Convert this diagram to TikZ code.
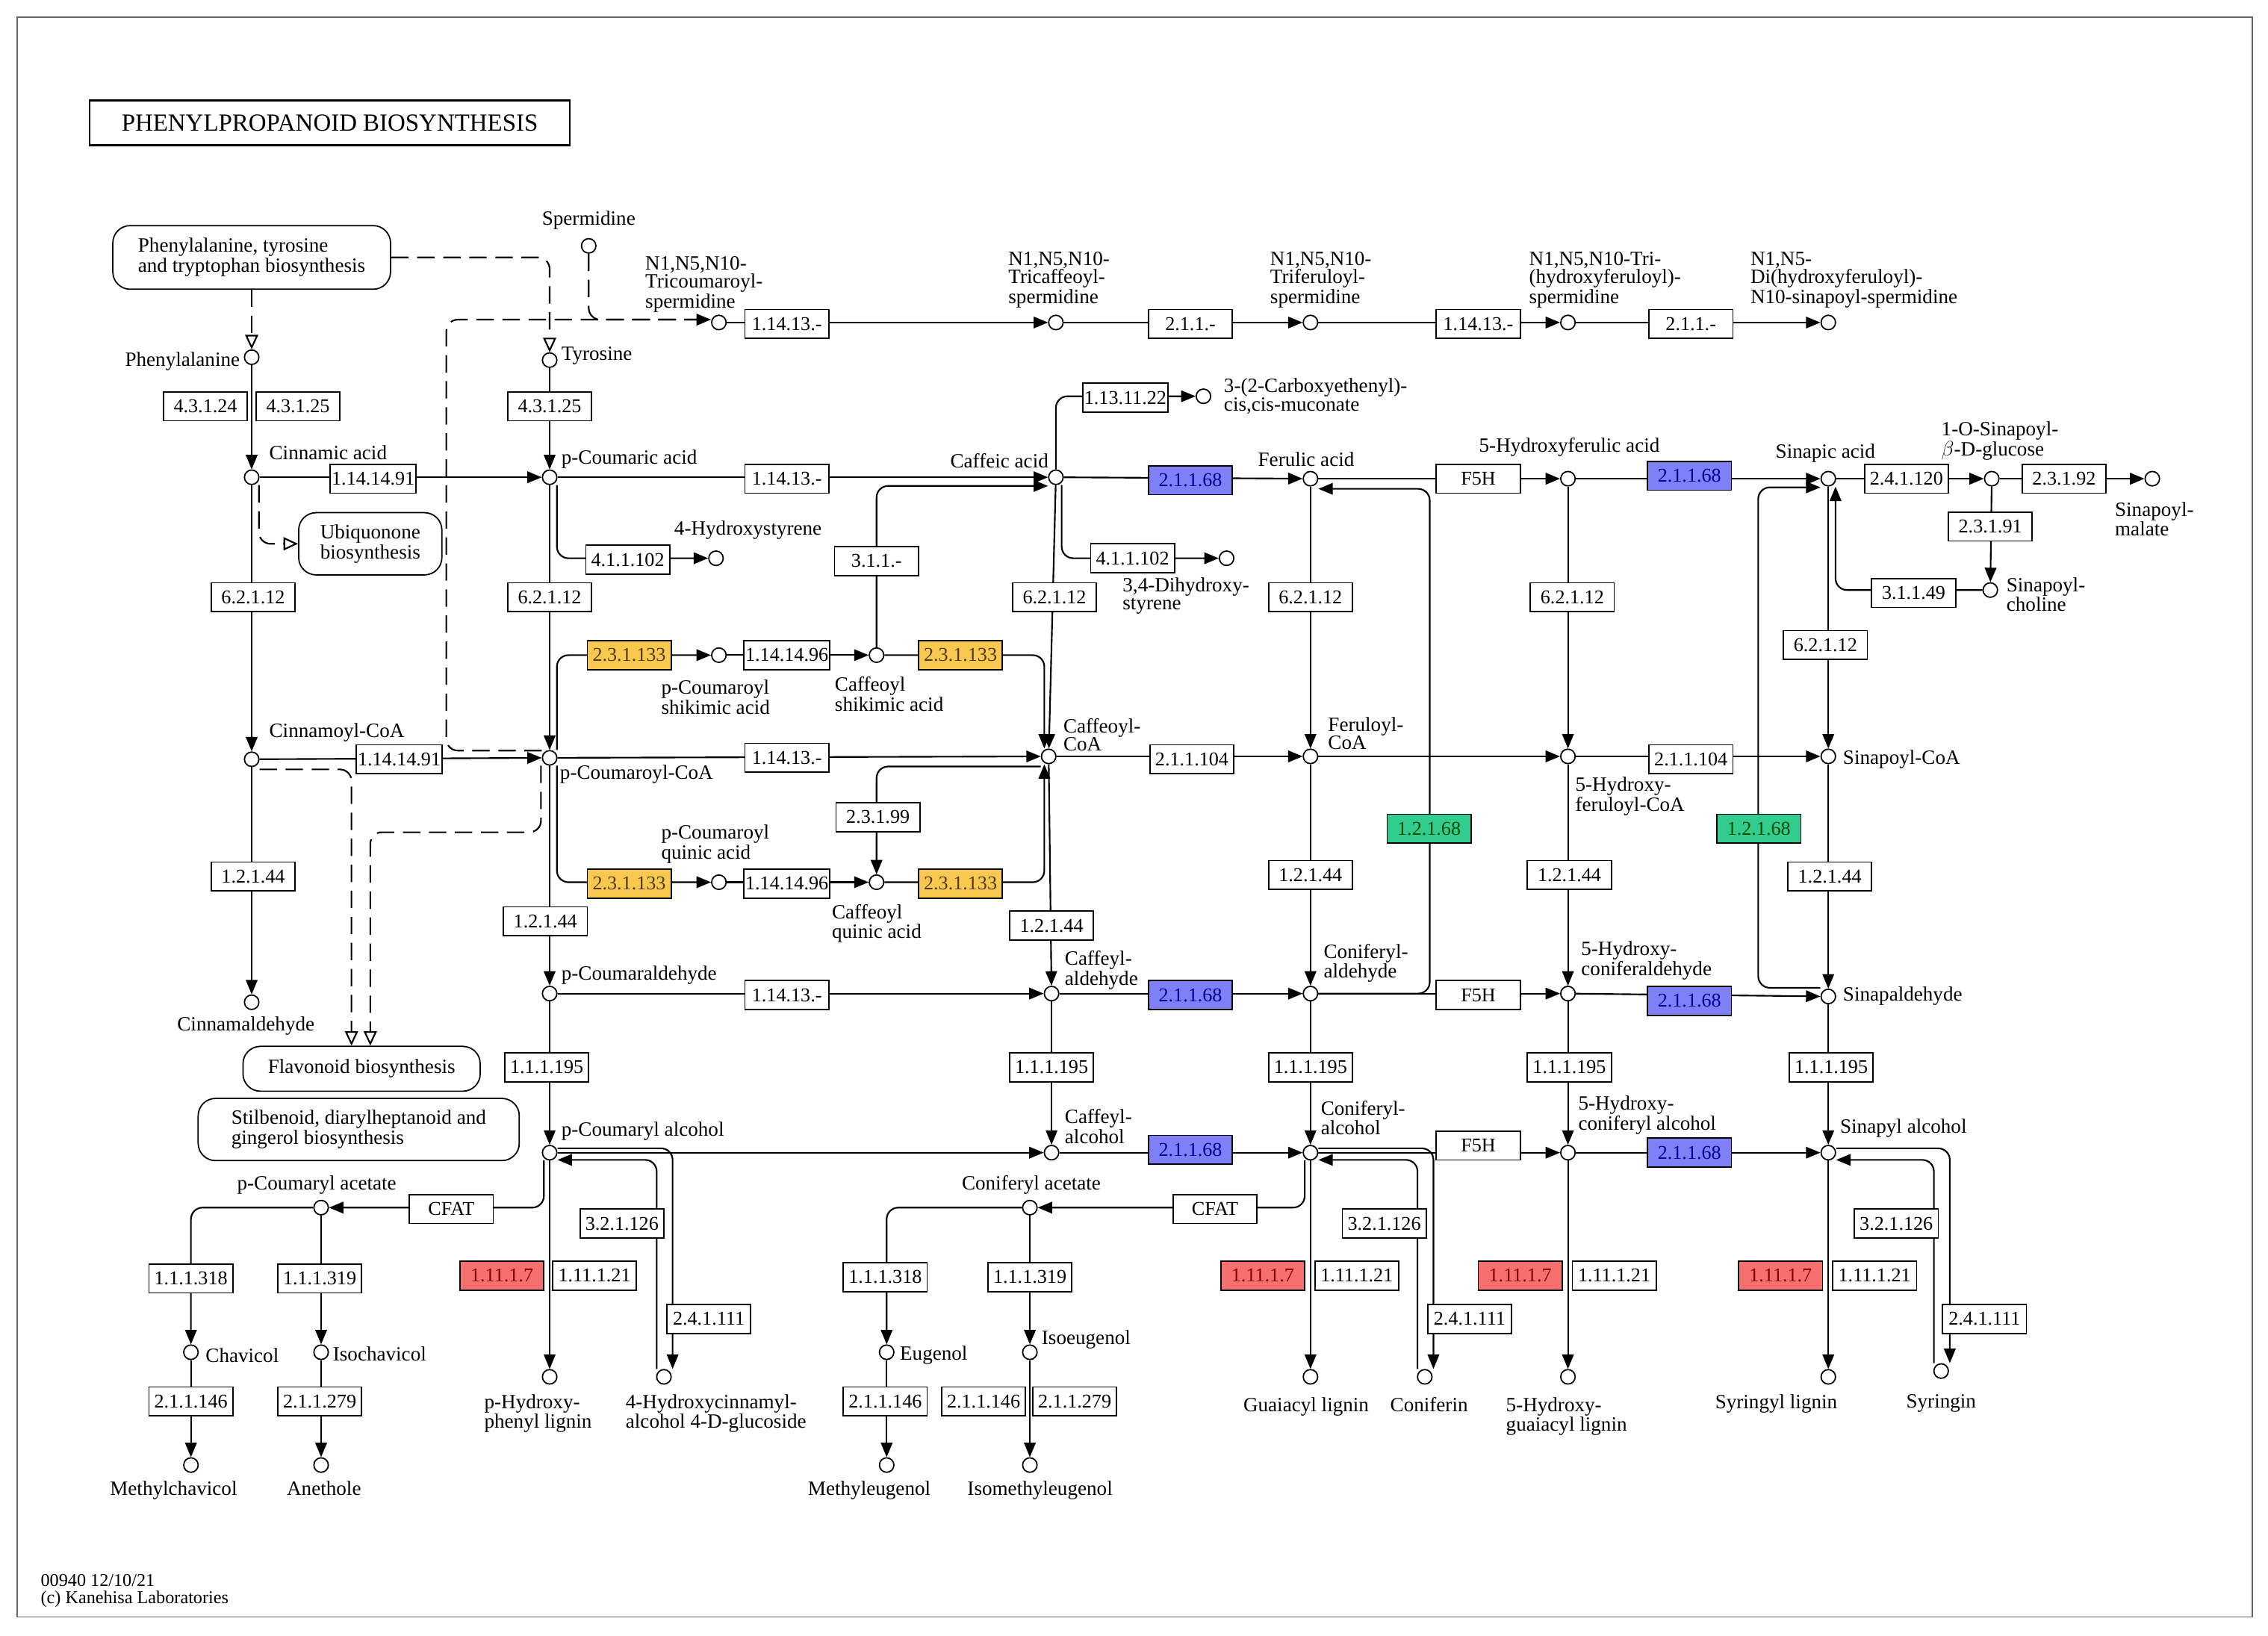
\documentclass[tikz,border=0pt]{standalone}
\usepackage{fontspec}
\setmainfont{Liberation Serif}
\usetikzlibrary{arrows.meta}
\newcommand\fs{\fontsize{14}{12.5}\selectfont}
\newcommand\fe{\fontsize{13.5}{13}\selectfont}
\definecolor{kyel}{HTML}{F9C84E}
\definecolor{kblu}{HTML}{7F7FF8}
\definecolor{kred}{HTML}{F86F6F}
\definecolor{kgrn}{HTML}{33CC8F}
\begin{document}
\begin{tikzpicture}[x=1pt,y=-1pt,
 cpd/.style={circle,draw,fill=white,inner sep=0pt,minimum size=10pt,line width=0.9pt},
 enz/.style={draw,fill=white,minimum width=58pt,minimum height=20pt,inner sep=1pt,font=\fe,line width=0.9pt},
 ey/.style={enz,fill=kyel,text=black!70!kyel},
 eb/.style={enz,fill=kblu,text=blue!60!black},
 er/.style={enz,fill=kred,text=red!50!black},
 eg/.style={enz,fill=kgrn,text=green!30!black},
 lbl/.style={font=\fs,inner sep=0pt,align=left},
 ar/.style={line width=1.1pt,-{Triangle[length=10pt,width=8pt]}},
 dar/.style={line width=1.1pt,dash pattern=on 12pt off 6pt,-{Triangle[open,length=10pt,width=9pt]}},
 dsh/.style={line width=1.1pt,dash pattern=on 12pt off 6pt},
 mp/.style={draw,fill=white,rounded corners=12pt,align=left,font=\fs,line width=0.9pt,inner sep=5pt},
 rc/.style={rounded corners=8pt}]
\useasboundingbox (0,0) rectangle (1568,1131);
\fill[white] (0,0) rectangle (1568,1131);
\draw[black!60,line width=0.8pt] (12,12) rectangle (1557,1118);
\node[draw,line width=1.4pt,font=\fontsize{17}{17}\selectfont,minimum width=332pt,minimum height=31pt] (title) at (228,85) {PHENYLPROPANOID BIOSYNTHESIS};
% maps
\node[mp,minimum width=192pt,minimum height=44pt] (map1) at (174,178) {Phenylalanine, tyrosine\\and tryptophan biosynthesis};
\node[mp,minimum width=99pt,minimum height=43pt,align=center] (map2) at (256,376) {Ubiquonone\\biosynthesis};
\node[mp,minimum width=164pt,minimum height=31pt] (map3) at (250,739) {Flavonoid biosynthesis};
\node[mp,minimum width=222pt,minimum height=43pt] (map4) at (248,781) {Stilbenoid, diarylheptanoid and\\gingerol biosynthesis};
% compounds
\foreach \n/\p in {phe/{174,247},cin/{174,330},cinCoA/{174,525},cinald/{174,693},tyr/{380,249},spd/{407,170},
 pca/{380,330},pcoa/{380,524},pcald/{380,687},pcalc/{380,797},hsty/{495,386},pshik/{497,453},cshik/{606,453},
 pquin/{497,610},cquin/{606,610},caf/{730,330},cafcoa/{725,523},cafald/{727,687},cafalc/{727,797},dhs/{848,386},
 muc/{832,274},fer/{906,331},fercoa/{906,523},conald/{906,687},conalc/{906,797},conac/{712,835},gl/{906,952},
 conif/{985,952},hfer/{1084,331},hfcoa/{1084,523},hcald/{1084,687},hcalc/{1084,797},hgl/{1084,952},
 sin/{1264,331},sincoa/{1264,523},sinald/{1264,689},sinalc/{1264,797},sgl/{1264,952},syr/{1342,948},
 sglc/{1377,331},smal/{1488,331},schol/{1376,408},tcs/{497,223},tcaf/{730,223},tfer/{906,223},thf/{1084,223},
 dhs2/{1264,223},pcac/{222,835},chav/{132,935},ichav/{222,935},mchav/{132,1013},aneth/{222,1013},
 phl/{380,952},glu/{459,952},eug/{613,935},ieug/{712,935},meug/{613,1013},imeug/{712,1013}}
 {\node[cpd] (\n) at (\p) {};}
% labels
\node[lbl,anchor=east] (Lphe) at (166,250) {Phenylalanine};
\node[lbl,anchor=south west] (Lcin) at (186,318) {Cinnamic acid};
\node[lbl,anchor=south west] (LcinCoA) at (186,513) {Cinnamoyl-CoA};
\node[lbl,anchor=north] (Lcinald) at (170,703) {Cinnamaldehyde};
\node[lbl,anchor=west] (Ltyr) at (388,246) {Tyrosine};
\node[lbl,anchor=south] (Lspd) at (407,159) {Spermidine};
\node[lbl,anchor=south west] (Lpca) at (388,324) {p-Coumaric acid};
\node[lbl,anchor=north west] (Lpcoa) at (387,529) {p-Coumaroyl-CoA};
\node[lbl,anchor=south west] (Lpcald) at (388,681) {p-Coumaraldehyde};
\node[lbl,anchor=south west] (Lpcalc) at (388,789) {p-Coumaryl alcohol};
\node[lbl,anchor=south west] (Lhsty) at (466,373) {4-Hydroxystyrene};
\node[lbl,anchor=north west] (Lpshik) at (457,470) {p-Coumaroyl\\shikimic acid};
\node[lbl,anchor=north west] (Lcshik) at (577,468) {Caffeoyl\\shikimic acid};
\node[lbl,anchor=south west] (Lpquin) at (457,597) {p-Coumaroyl\\quinic acid};
\node[lbl,anchor=north west] (Lcquin) at (575,625) {Caffeoyl\\quinic acid};
\node[lbl,anchor=south east] (Lcaf) at (725,324) {Caffeic acid};
\node[lbl,anchor=west] (Lcafcoa) at (735,508) {Caffeoyl-\\CoA};
\node[lbl,anchor=west] (Lcafald) at (736,671) {Caffeyl-\\aldehyde};
\node[lbl,anchor=west] (Lcafalc) at (736,779) {Caffeyl-\\alcohol};
\node[lbl,anchor=north west] (Ldhs) at (776,399) {3,4-Dihydroxy-\\styrene};
\node[lbl,anchor=west] (Lmuc) at (846,274) {3-(2-Carboxyethenyl)-\\cis,cis-muconate};
\node[lbl,anchor=south] (Lfer) at (903,323) {Ferulic acid};
\node[lbl,anchor=west] (Lfercoa) at (918,507) {Feruloyl-\\CoA};
\node[lbl,anchor=west] (Lconald) at (915,666) {Coniferyl-\\aldehyde};
\node[lbl,anchor=west] (Lconalc) at (913,773) {Coniferyl-\\alcohol};
\node[lbl,anchor=south] (Lconac) at (713,826) {Coniferyl acetate};
\node[lbl,anchor=north] (Lgl) at (903,966) {Guaiacyl lignin};
\node[lbl,anchor=north] (Lconif) at (988,966) {Coniferin};
\node[lbl,anchor=south] (Lhfer) at (1085,316) {5-Hydroxyferulic acid};
\node[lbl,anchor=north west] (Lhfcoa) at (1089,537) {5-Hydroxy-\\feruloyl-CoA};
\node[lbl,anchor=west] (Lhcald) at (1093,664) {5-Hydroxy-\\coniferaldehyde};
\node[lbl,anchor=west] (Lhcalc) at (1091,771) {5-Hydroxy-\\coniferyl alcohol};
\node[lbl,anchor=north] (Lhgl) at (1083,966) {5-Hydroxy-\\guaiacyl lignin};
\node[lbl,anchor=south] (Lsin) at (1262,320) {Sinapic acid};
\node[lbl,anchor=west] (Lsincoa) at (1274,525) {Sinapoyl-CoA};
\node[lbl,anchor=west] (Lsinald) at (1274,689) {Sinapaldehyde};
\node[lbl,anchor=west] (Lsinalc) at (1272,780) {Sinapyl alcohol};
\node[lbl,anchor=north] (Lsgl) at (1228,964) {Syringyl lignin};
\node[lbl,anchor=north] (Lsyr) at (1342,964) {Syringin};
\node[lbl,anchor=west] (Lsglc) at (1342,305) {1-O-Sinapoyl-\\$\beta$-D-glucose};
\node[lbl,anchor=west] (Lsmal) at (1462,359) {Sinapoyl-\\malate};
\node[lbl,anchor=west] (Lschol) at (1387,411) {Sinapoyl-\\choline};
\node[lbl,anchor=south west] (Ltcs) at (446,216) {N1,N5,N10-\\Tricoumaroyl-\\spermidine};
\node[lbl,anchor=south west] (Ltcaf) at (697,213) {N1,N5,N10-\\Tricaffeoyl-\\spermidine};
\node[lbl,anchor=south west] (Ltfer) at (878,213) {N1,N5,N10-\\Triferuloyl-\\spermidine};
\node[lbl,anchor=south west] (Lthf) at (1057,213) {N1,N5,N10-Tri-\\(hydroxyferuloyl)-\\spermidine};
\node[lbl,anchor=south west] (Ldhs2) at (1210,213) {N1,N5-\\Di(hydroxyferuloyl)-\\N10-sinapoyl-spermidine};
\node[lbl,anchor=south] (Lpcac) at (219,826) {p-Coumaryl acetate};
\node[lbl,anchor=west] (Lchav) at (142,937) {Chavicol};
\node[lbl,anchor=west] (Lichav) at (230,936) {Isochavicol};
\node[lbl,anchor=north] (Lmchav) at (120,1024) {Methylchavicol};
\node[lbl,anchor=north] (Laneth) at (224,1024) {Anethole};
\node[lbl,anchor=north] (Lphl) at (372,964) {p-Hydroxy-\\phenyl lignin};
\node[lbl,anchor=north] (Lglu) at (495,964) {4-Hydroxycinnamyl-\\alcohol 4-D-glucoside};
\node[lbl,anchor=west] (Leug) at (622,937) {Eugenol};
\node[lbl,anchor=west] (Lieug) at (720,926) {Isoeugenol};
\node[lbl,anchor=north] (Lmeug) at (601,1024) {Methyleugenol};
\node[lbl,anchor=north] (Limeug) at (719,1024) {Isomethyleugenol};
\node[lbl,anchor=west,font=\fontsize{12.5}{12}\selectfont] (foot) at (28,1100) {00940 12/10/21\\(c) Kanehisa Laboratories};
% dashed links
\draw[dar] (map1) -- (phe);
\draw[dar,rc] (map1.east) -| (tyr);
\draw[dar,rc] ([xshift=5pt]cin.south) |- (map2.west);
\draw[dar,rc] ([yshift=-7pt]cinCoA.east) -| ([xshift=-7pt]map3.north);
\draw[dar,rc] ([xshift=-6pt]pcoa.south) -- ++(0,46) -| ([xshift=6pt]map3.north);
\draw[dsh,rc,-{Triangle[length=10pt,width=8pt]}] (spd) |- ([yshift=2pt]tcs.west);
\draw[dsh,rc] ([yshift=5pt]pcoa.west) -- ++(-66,0) |- ([yshift=2pt]tcs.west);
% reactions
\draw[ar] (phe) -- (cin);
\draw[ar] (cin) -- (pca);
\draw[ar] (cin) -- (cinCoA);
\draw[ar] (cinCoA) -- (cinald);
\draw[ar] (cinCoA) -- (pcoa);
\draw[ar] (tyr) -- (pca);
\draw[ar] (pca) -- (pcoa);
\draw[ar] (pca) -- (caf);
\draw[ar,rc] ([xshift=5pt]pca.south) |- (hsty);
\draw[ar,rc] ([xshift=5pt]pcoa.north) |- (pshik);
\draw[ar] (pshik) -- (cshik);
\draw[ar,rc] (cshik) -| ([xshift=-3pt]cafcoa.north);
\draw[ar,rc] (cshik) |- ([yshift=-6pt]caf.west);
\draw[ar,rc] ([xshift=5pt]pcoa.south) |- (pquin);
\draw[ar] (pquin) -- (cquin);
\draw[ar,rc] (cquin) -| ([xshift=-3pt]cafcoa.south);
\draw[ar,rc] ([yshift=-7pt]cafcoa.west) -| (cquin);
\draw[ar] (caf) -- (fer);
\draw[ar] (caf) -- (cafcoa);
\draw[ar,rc] ([xshift=4pt]caf.south) |- (dhs);
\draw[ar,rc] (caf.north) |- (muc);
\draw[ar] (cafcoa) -- (fercoa);
\draw[ar] (cafcoa) -- (cafald);
\draw[ar] (pcoa) -- (pcald);
\draw[ar] (pcoa) -- (cafcoa);
\draw[ar] (pcald) -- (cafald);
\draw[ar] (pcald) -- (pcalc);
\draw[ar] (cafald) -- (conald);
\draw[ar] (cafald) -- (cafalc);
\draw[ar] (pcalc) -- (cafalc);
\draw[ar] (cafalc) -- (conalc);
\draw[ar] (fer) -- (fercoa);
\draw[ar] (fer) -- (hfer);
\draw[ar] (hfer) -- (sin);
\draw[ar] (fercoa) -- (hfcoa);
\draw[ar] (hfcoa) -- (sincoa);
\draw[ar] (fercoa) -- (conald);
\draw[ar,rc] (conald.east) -- ++(77,0) |- ([yshift=-7pt]fer.east);
\draw[ar] (conald) -- (hcald);
\draw[ar] (hcald) -- (sinald);
\draw[ar,rc] ([yshift=6pt]sinald.west) -- ++(-43,0) |- ([yshift=-6pt]sin.west);
\draw[ar] (conald) -- (conalc);
\draw[ar] (hcald) -- (hcalc);
\draw[ar] (sinald) -- (sinalc);
\draw[ar] (conalc) -- (hcalc);
\draw[ar] (hcalc) -- (sinalc);
\draw[ar] (hfer) -- (hfcoa);
\draw[ar] (hfcoa) -- (hcald);
\draw[ar] (sin) -- (sincoa);
\draw[ar] (sincoa) -- (sinald);
\draw[ar] (sin) -- (sglc);
\draw[ar] (sglc) -- (smal);
\draw[ar] (sglc) -- (schol);
\draw[ar,rc] (schol) -| ([xshift=5pt]sin.south);
\draw[ar] (pcalc) -- (phl);
\draw[ar,rc] ([yshift=3pt]pcalc.east) -| ([xshift=6pt]glu.north);
\draw[ar,rc] ([xshift=-5pt]glu.north) |- ([yshift=-5pt]pcalc.east);
\draw[ar] (conalc) -- (gl);
\draw[ar,rc] ([yshift=3pt]conalc.east) -| ([xshift=6pt]conif.north);
\draw[ar,rc] ([xshift=-5pt]conif.north) |- ([yshift=-5pt]conalc.east);
\draw[ar] (hcalc) -- (hgl);
\draw[ar] (sinalc) -- (sgl);
\draw[ar,rc] ([yshift=3pt]sinalc.east) -| ([xshift=6pt]syr.north);
\draw[ar,rc] ([xshift=-5pt]syr.north) |- ([yshift=-5pt]sinalc.east);
\draw[ar,rc] ([xshift=-4pt]pcalc.south) |- (pcac);
\draw[ar,rc] ([xshift=-4pt]conalc.south) |- (conac);
\draw[ar,rc] (pcac) -| (chav);
\draw[ar] (pcac) -- (ichav);
\draw[ar] (chav) -- (mchav);
\draw[ar] (ichav) -- (aneth);
\draw[ar,rc] (conac) -| (eug);
\draw[ar] (conac) -- (ieug);
\draw[ar] (eug) -- (meug);
\draw[ar] (ieug) -- (imeug);
\draw[ar] (tcs) -- (tcaf);
\draw[ar] (tcaf) -- (tfer);
\draw[ar] (tfer) -- (thf);
\draw[ar] (thf) -- (dhs2);
% enzymes
\node[enz] (e1) at (142,281) {4.3.1.24};
\node[enz] (e2) at (206,281) {4.3.1.25};
\node[enz] (e3) at (380,281) {4.3.1.25};
\node[enz] (e4) at (258,331) {1.14.14.91};
\node[enz] (e5) at (175,413) {6.2.1.12};
\node[enz] (e6) at (380,413) {6.2.1.12};
\node[enz] (e7) at (276,525) {1.14.14.91};
\node[enz] (e8) at (175,606) {1.2.1.44};
\node[enz] (e9) at (377,637) {1.2.1.44};
\node[enz] (e10) at (544,331) {1.14.13.-};
\node[enz] (e11) at (434,387) {4.1.1.102};
\node[enz] (e12) at (606,388) {3.1.1.-};
\node[ey] (e13) at (435,453) {2.3.1.133};
\node[enz] (e14) at (544,453) {1.14.14.96};
\node[ey] (e15) at (664,453) {2.3.1.133};
\node[enz] (e16) at (544,524) {1.14.13.-};
\node[enz] (e17) at (607,565) {2.3.1.99};
\node[ey] (e18) at (435,611) {2.3.1.133};
\node[enz] (e19) at (544,611) {1.14.14.96};
\node[ey] (e20) at (664,611) {2.3.1.133};
\node[enz] (e21) at (727,640) {1.2.1.44};
\node[enz] (e22) at (544,688) {1.14.13.-};
\node[enz] (e23) at (378,738) {1.1.1.195};
\node[enz] (e24) at (727,738) {1.1.1.195};
\node[enz] (e25) at (906,738) {1.1.1.195};
\node[enz] (e26) at (1085,738) {1.1.1.195};
\node[enz] (e27) at (1266,738) {1.1.1.195};
\node[enz] (e28) at (778,275) {1.13.11.22};
\node[enz] (e29) at (783,386) {4.1.1.102};
\node[enz] (e30) at (729,413) {6.2.1.12};
\node[enz] (e31) at (906,413) {6.2.1.12};
\node[enz] (e32) at (1087,413) {6.2.1.12};
\node[enz] (e33) at (1262,446) {6.2.1.12};
\node[eb] (e34) at (823,332) {2.1.1.68};
\node[eb] (e35) at (1168,329) {2.1.1.68};
\node[eb] (e36) at (823,688) {2.1.1.68};
\node[eb] (e37) at (1168,692) {2.1.1.68};
\node[eb] (e38) at (823,795) {2.1.1.68};
\node[eb] (e39) at (1168,797) {2.1.1.68};
\node[enz] (e40) at (1022,331) {F5H};
\node[enz] (e41) at (1022,688) {F5H};
\node[enz] (e42) at (1022,792) {F5H};
\node[enz] (e43) at (824,525) {2.1.1.104};
\node[enz] (e44) at (1169,525) {2.1.1.104};
\node[eg] (e45) at (988,573) {1.2.1.68};
\node[eg] (e46) at (1216,573) {1.2.1.68};
\node[enz] (e47) at (906,605) {1.2.1.44};
\node[enz] (e48) at (1085,605) {1.2.1.44};
\node[enz] (e49) at (1265,606) {1.2.1.44};
\node[enz] (e50) at (1318,331) {2.4.1.120};
\node[enz] (e51) at (1427,331) {2.3.1.92};
\node[enz] (e52) at (1376,364) {2.3.1.91};
\node[enz] (e53) at (1323,410) {3.1.1.49};
\node[enz] (e54) at (544,224) {1.14.13.-};
\node[enz] (e55) at (823,224) {2.1.1.-};
\node[enz] (e56) at (1022,224) {1.14.13.-};
\node[enz] (e57) at (1169,224) {2.1.1.-};
\node[enz] (e58) at (312,836) {CFAT};
\node[enz] (e59) at (840,836) {CFAT};
\node[enz] (e60) at (430,846) {3.2.1.126};
\node[enz] (e61) at (957,846) {3.2.1.126};
\node[enz] (e62) at (1311,846) {3.2.1.126};
\node[er] (e63) at (347,882) {1.11.1.7};
\node[er] (e64) at (873,882) {1.11.1.7};
\node[er] (e65) at (1051,882) {1.11.1.7};
\node[er] (e66) at (1231,882) {1.11.1.7};
\node[enz] (e67) at (411,882) {1.11.1.21};
\node[enz] (e68) at (938,882) {1.11.1.21};
\node[enz] (e69) at (1116,882) {1.11.1.21};
\node[enz] (e70) at (1296,882) {1.11.1.21};
\node[enz] (e71) at (490,912) {2.4.1.111};
\node[enz] (e72) at (1016,912) {2.4.1.111};
\node[enz] (e73) at (1372,912) {2.4.1.111};
\node[enz] (e74) at (132,884) {1.1.1.318};
\node[enz] (e75) at (221,884) {1.1.1.319};
\node[enz] (e76) at (612,883) {1.1.1.318};
\node[enz] (e77) at (712,883) {1.1.1.319};
\node[enz] (e78) at (132,969) {2.1.1.146};
\node[enz] (e79) at (221,969) {2.1.1.279};
\node[enz] (e80) at (612,969) {2.1.1.146};
\node[enz] (e81) at (680,969) {2.1.1.146};
\node[enz] (e82) at (743,969) {2.1.1.279};
\end{tikzpicture}
\end{document}
